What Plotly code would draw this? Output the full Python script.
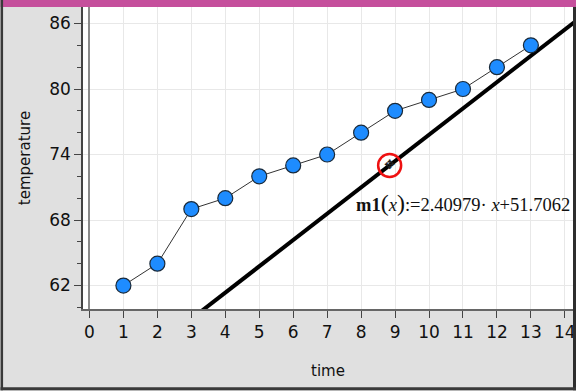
import plotly.graph_objects as go

time = [1, 2, 3, 4, 5, 6, 7, 8, 9, 10, 11, 12, 13]
temperature = [62, 64, 69, 70, 72, 73, 74, 76, 78, 79, 80, 82, 84]
fit_x = [3.3, 14.3]
fit_y = [59.66, 86.17]
handle_x = [8.84]
handle_y = [73.0]
x_ticks = list(range(0, 15))
y_major = [62, 68, 74, 80, 86]
y_minor = [60, 64, 66, 70, 72, 76, 78, 82, 84]

W, H = 576, 391
L, R, T, B = 82.5, 573, 7, 309.5
FONT = "DejaVu Sans"

def px(x):
    return (x - L) / (R - L)

def py(y):
    return (B - y) / (B - T)

def rect(x0, y0, x1, y1, color):
    return dict(type="rect", xref="paper", yref="paper", layer="above",
                x0=px(x0), x1=px(x1), y0=py(y0), y1=py(y1),
                fillcolor=color, line_width=0)

fig = go.Figure()
fig.add_trace(go.Scatter(x=fit_x, y=fit_y, mode="lines",
                         line=dict(color="#000000", width=4), cliponaxis=True))
fig.add_trace(go.Scatter(x=time, y=temperature, mode="lines+markers",
                         line=dict(color="#333333", width=1),
                         marker=dict(size=15, color="#1e8cff",
                                     line=dict(color="#1a2a3a", width=1.2))))
fig.add_trace(go.Scatter(x=handle_x, y=handle_y, mode="markers",
                         marker=dict(size=23, color="rgba(0,0,0,0)",
                                     line=dict(color="#ee1111", width=2.5))))
fig.add_trace(go.Scatter(x=handle_x, y=handle_y, mode="text", text=["✥"],
                         textposition="middle center",
                         textfont=dict(size=13, color="#222222", family="DejaVu Sans")))

fig.update_layout(
    width=W, height=H, showlegend=False,
    margin=dict(l=L, r=W - R, t=T, b=H - B, pad=0, autoexpand=False),
    paper_bgcolor="#e0e0e0", plot_bgcolor="#ffffff",
    font=dict(family=FONT, size=17, color="#111111"),
    xaxis=dict(range=[-0.19, 14.24], tickvals=x_ticks, ticks="outside", ticklen=7,
               tickwidth=1, tickcolor="#444444", showline=True, linecolor="#666666",
               linewidth=1.5, gridcolor="#e8e8e8", gridwidth=1, zeroline=True,
               zerolinecolor="#8a8a8a", zerolinewidth=1.5, mirror=False, automargin=False,
               title=dict(text="time", font=dict(size=15), standoff=24),
               tickfont=dict(size=17)),
    yaxis=dict(range=[59.85, 87.51], tickvals=y_major, ticks="outside", ticklen=7,
               tickwidth=1, tickcolor="#444444", showline=True, linecolor="#444444",
               linewidth=1.5, gridcolor="#e8e8e8", gridwidth=1, zeroline=False, automargin=False,
               title=dict(text="temperature", font=dict(size=15), standoff=15),
               minor=dict(tickvals=y_minor, ticks="outside", ticklen=4, tickwidth=1,
                          tickcolor="#444444", showgrid=False),
               tickfont=dict(size=17)),
    shapes=[
        rect(0, 0, W, 7, "#c54f9c"),
        rect(0, 0, 2.5, H, "#3a3a3a"),
        rect(573, 7, W, H, "#2e2e2e"),
        rect(0, 388, W, H, "#3a3a3a"),
    ],
    annotations=[dict(
        xref="paper", yref="paper", x=px(572), y=py(203.5), xanchor="right", yanchor="middle",
        showarrow=False,
        text="<b>m1</b><span style='font-size:24px'>(</span><i>x</i>"
             "<span style='font-size:24px'>)</span>:=2.40979· <i>x</i>+51.7062",
        font=dict(family="Liberation Serif", size=18.5, color="#111111"),
    )],
)
fig.write_html("out.html", post_script="document.body.style.margin='0';",
               config=dict(displayModeBar=False))
